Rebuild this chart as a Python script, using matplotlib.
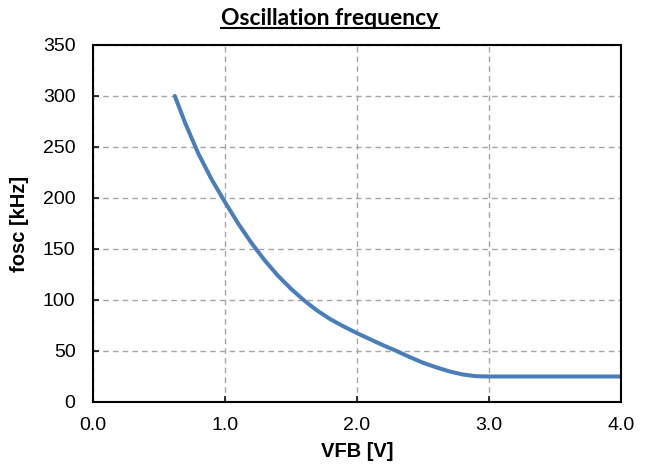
import numpy as np
import matplotlib
matplotlib.use("Agg")
import matplotlib.pyplot as plt
from matplotlib.lines import Line2D

# feedback voltage [V] vs oscillation frequency [kHz]
vfb = [0.62, 0.70, 0.80, 0.90, 1.00, 1.10, 1.20, 1.30, 1.40, 1.50, 1.60,
       1.70, 1.80, 1.90, 2.00, 2.10, 2.20, 2.30, 2.40, 2.50, 2.60, 2.70,
       2.80, 2.90, 3.00, 3.50, 4.00]
fosc = [300, 273, 243, 218, 196, 175, 156, 139, 124, 111, 99.5,
        89.5, 81, 74, 67.5, 61.5, 55.5, 50, 44, 38.5, 34, 30,
        27, 25.3, 25, 25, 25]

x_ticks = [0.0, 1.0, 2.0, 3.0, 4.0]
y_ticks = [0, 50, 100, 150, 200, 250, 300, 350]

plt.rcParams['font.family'] = ['Liberation Sans', 'DejaVu Sans']

fig = plt.figure(figsize=(6.47, 4.71), dpi=100)
ax = fig.add_axes([0.1437, 0.1465, 0.8161, 0.758])

ax.plot(vfb, fosc, color='#4a7ebb', linewidth=2.9, solid_capstyle='round')

ax.set_xlim(0, 4)
ax.set_ylim(0, 350)
ax.set_xticks(x_ticks)
ax.set_xticklabels(['%.1f' % t for t in x_ticks])
ax.set_yticks(y_ticks)
ax.tick_params(direction='in', length=4, width=1.1, labelsize=14, colors='black')
ax.tick_params(axis='x', pad=11)
ax.tick_params(axis='y', pad=12.5)
ax.grid(True, color='#a6a6a6', linestyle=(0, (4, 3)), linewidth=1)
ax.set_axisbelow(True)
for s in ax.spines.values():
    s.set_linewidth(1.5)
    s.set_color('black')

ax.set_xlabel('VFB [V]', fontsize=14.5, fontweight='bold')
ax.set_ylabel('fosc [kHz]', fontsize=14.5, fontweight='bold')
ax.xaxis.set_label_coords(0.5, -0.140)
ax.xaxis.label.set_va('center')
ax.yaxis.set_label_coords(-0.140, 0.5)
ax.yaxis.label.set_va('center')

# title with underline drawn below the text
ty = 0.947
title = fig.text(0.51, ty, 'Oscillation frequency', ha='center', va='baseline',
                 fontsize=16.5, fontweight='bold', family=['Lato', 'DejaVu Sans'])
fig.canvas.draw()
bb = title.get_window_extent().transformed(fig.transFigure.inverted())
uy = ty - 0.0075
fig.add_artist(Line2D([bb.x0, bb.x1], [uy, uy], color='black', linewidth=1.5,
                      transform=fig.transFigure))

fig.savefig('out.png', dpi=100)
